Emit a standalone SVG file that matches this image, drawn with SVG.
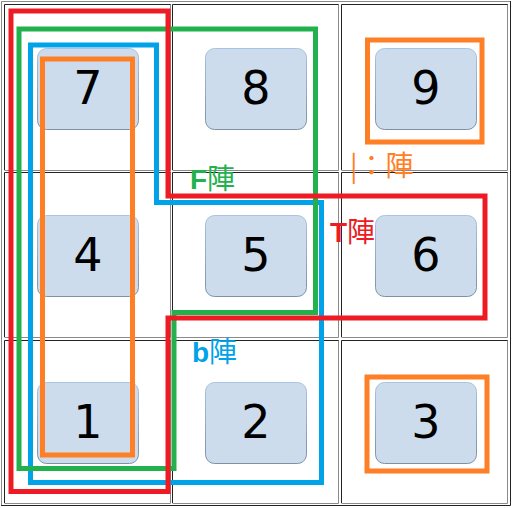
<svg xmlns="http://www.w3.org/2000/svg" width="515" height="508" viewBox="0 0 515 508">
<defs>
<linearGradient id="ns" x1="0" y1="0" x2="0" y2="1">
<stop offset="0" stop-color="#a9c4e2"/>
<stop offset="1" stop-color="#7c90a6"/>
</linearGradient>
<style>
.gk{fill:none;stroke:#222;stroke-width:1}
.gg{fill:none;stroke:#8a8a8a;stroke-width:1}
.node rect{fill:#ccdcec;stroke:url(#ns);stroke-width:1}
.node text{font-family:"DejaVu Sans",sans-serif;font-size:46px;fill:#000;text-anchor:middle}
.ol{fill:none;stroke-width:5;stroke-linejoin:miter}
.lbl{font-family:"Noto Sans CJK JP",sans-serif;font-size:28px}
.lat{font-family:"Liberation Sans","Noto Sans CJK JP",sans-serif;font-weight:bold}
</style>
</defs>
<rect width="515" height="508" fill="#fff"/>
<g id="grid">
<path class="gg" d="M1.5 506V1.5H511"/>
<path class="gk" d="M1 505.5H510.5V1"/>
<path class="gk" d="M4.5 170V4.5H171"/>
<path class="gg" d="M170.5 4.5V170.5H4.5"/>
<path class="gk" d="M172.5 170V4.5H339"/>
<path class="gg" d="M338.5 4.5V170.5H172.5"/>
<path class="gk" d="M341.5 170V4.5H508"/>
<path class="gg" d="M507.5 4.5V170.5H341.5"/>
<path class="gk" d="M4.5 337V172.5H171"/>
<path class="gg" d="M170.5 172.5V337.5H4.5"/>
<path class="gk" d="M172.5 337V172.5H339"/>
<path class="gg" d="M338.5 172.5V337.5H172.5"/>
<path class="gk" d="M341.5 337V172.5H508"/>
<path class="gg" d="M507.5 172.5V337.5H341.5"/>
<path class="gk" d="M4.5 503V340.5H171"/>
<path class="gg" d="M170.5 340.5V503.5H4.5"/>
<path class="gk" d="M172.5 503V340.5H339"/>
<path class="gg" d="M338.5 340.5V503.5H172.5"/>
<path class="gk" d="M341.5 503V340.5H508"/>
<path class="gg" d="M507.5 340.5V503.5H341.5"/>
</g>
<g id="n7" class="node"><rect x="37.5" y="48.5" width="101" height="81" rx="9"/><text x="88" y="104">7</text></g>
<g id="n8" class="node"><rect x="205.5" y="48.5" width="101" height="81" rx="9"/><text x="256" y="104">8</text></g>
<g id="n9" class="node"><rect x="375.5" y="48.5" width="101" height="81" rx="9"/><text x="426" y="104">9</text></g>
<g id="n4" class="node"><rect x="37.5" y="215.5" width="101" height="81" rx="9"/><text x="88" y="271">4</text></g>
<g id="n5" class="node"><rect x="205.5" y="215.5" width="101" height="81" rx="9"/><text x="256" y="271">5</text></g>
<g id="n6" class="node"><rect x="375.5" y="215.5" width="101" height="81" rx="9"/><text x="426" y="271">6</text></g>
<g id="n1" class="node"><rect x="37.5" y="382.5" width="101" height="81" rx="9"/><text x="88" y="438">1</text></g>
<g id="n2" class="node"><rect x="205.5" y="382.5" width="101" height="81" rx="9"/><text x="256" y="438">2</text></g>
<g id="n3" class="node"><rect x="375.5" y="382.5" width="101" height="81" rx="9"/><text x="426" y="438">3</text></g>
<g id="connectors">
<path id="b" class="ol" stroke="#00a2e8" d="M30.5 45H156.5V202.5H321.5V482.5H30.5Z"/>
<path id="f" class="ol" stroke="#22b14c" d="M19 29H315.5V312.5H174V468.5H19Z"/>
<path id="t" class="ol" stroke="#ed1c24" d="M11 11H168V196H485V318H168V491.5H11Z"/>
<rect id="i" class="ol" stroke="#ff7f27" x="42.5" y="59" width="90" height="396"/>
<rect id="o9" class="ol" stroke="#ff7f27" x="367.5" y="40" width="114.5" height="102"/>
<rect id="o3" class="ol" stroke="#ff7f27" x="367" y="377" width="120" height="94"/>
</g>
<g id="labels">
<text class="lbl" x="190" y="189" fill="#22b14c"><tspan class="lat">F</tspan>陣</text>
<text class="lbl" x="330" y="242" fill="#ed1c24"><tspan class="lat">T</tspan>陣</text>
<text class="lbl" x="192" y="362" fill="#00a2e8"><tspan class="lat">b</tspan>陣</text>
<text class="lbl" x="350" y="176" fill="#ff7f27">|：陣</text>
</g>
</svg>
